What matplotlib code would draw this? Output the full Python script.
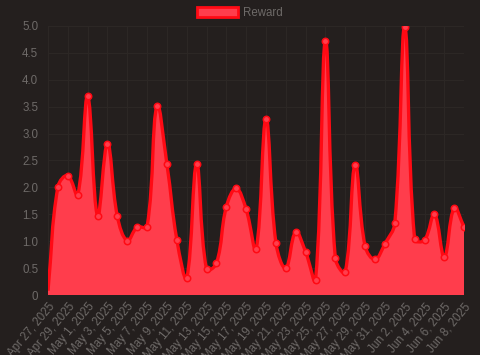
import numpy as np
import matplotlib
matplotlib.use("Agg")
import matplotlib.pyplot as plt
from matplotlib.path import Path
from matplotlib.patches import PathPatch, Patch

plt.rcParams["font.family"] = ["Liberation Sans", "DejaVu Sans"]

dates = ["Apr 27, 2025", "Apr 28, 2025", "Apr 29, 2025", "Apr 30, 2025",
         "May 1, 2025", "May 2, 2025", "May 3, 2025", "May 4, 2025",
         "May 5, 2025", "May 6, 2025", "May 7, 2025", "May 8, 2025",
         "May 9, 2025", "May 10, 2025", "May 11, 2025", "May 12, 2025",
         "May 13, 2025", "May 14, 2025", "May 15, 2025", "May 16, 2025",
         "May 17, 2025", "May 18, 2025", "May 19, 2025", "May 20, 2025",
         "May 21, 2025", "May 22, 2025", "May 23, 2025", "May 24, 2025",
         "May 25, 2025", "May 26, 2025", "May 27, 2025", "May 28, 2025",
         "May 29, 2025", "May 30, 2025", "May 31, 2025", "Jun 1, 2025",
         "Jun 2, 2025", "Jun 3, 2025", "Jun 4, 2025", "Jun 5, 2025",
         "Jun 6, 2025", "Jun 7, 2025", "Jun 8, 2025"]
reward = [0.08, 2.01, 2.22, 1.86, 3.69, 1.47, 2.81, 1.46, 1.01, 1.26, 1.27,
          3.52, 2.43, 1.03, 0.32, 2.43, 0.48, 0.59, 1.64, 1.98, 1.59, 0.85,
          3.27, 0.97, 0.50, 1.17, 0.80, 0.28, 4.72, 0.68, 0.43, 2.42, 0.91,
          0.66, 0.95, 1.34, 4.98, 1.04, 1.02, 1.50, 0.71, 1.62, 1.26]

bg = "#241f1e"
grid_c = "#2c2725"
text_c = "#6e6a68"
red = "#ff0a14"
fill_c = "#ff3d4c"

fig = plt.figure(figsize=(4.8, 3.55), dpi=100, facecolor=bg)
ax = fig.add_axes([0.1, 0.169, 0.867, 0.758], facecolor=bg)

x = np.arange(len(reward), dtype=float)
y = np.array(reward, dtype=float)

# chart.js style spline, computed in pixel space
sx, sy = 9.9, 53.8
px, py = x * sx, y * sy
tension = 0.4
cp_prev = []
cp_next = []
n = len(x)
for i in range(n):
    a = max(i - 1, 0)
    b = min(i + 1, n - 1)
    d01 = np.hypot(px[i] - px[a], py[i] - py[a])
    d12 = np.hypot(px[b] - px[i], py[b] - py[i])
    tot = d01 + d12
    s01 = d01 / tot if tot else 0
    s12 = d12 / tot if tot else 0
    fa = tension * s01
    fb = tension * s12
    cp_prev.append((px[i] - fa * (px[b] - px[a]), py[i] - fa * (py[b] - py[a])))
    cp_next.append((px[i] + fb * (px[b] - px[a]), py[i] + fb * (py[b] - py[a])))

verts = [(x[0], y[0])]
codes = [Path.MOVETO]
for i in range(n - 1):
    c1 = (cp_next[i][0] / sx, cp_next[i][1] / sy)
    c2 = (cp_prev[i + 1][0] / sx, cp_prev[i + 1][1] / sy)
    verts += [c1, c2, (x[i + 1], y[i + 1])]
    codes += [Path.CURVE4] * 3

fill_verts = verts + [(x[-1], 0), (x[0], 0), (x[0], y[0])]
fill_codes = codes + [Path.LINETO, Path.LINETO, Path.CLOSEPOLY]
ax.add_patch(PathPatch(Path(fill_verts, fill_codes), facecolor=fill_c,
                       edgecolor="none", zorder=2))
ax.add_patch(PathPatch(Path(verts, codes), facecolor="none", edgecolor=red,
                       lw=2.4, zorder=3, joinstyle="round"))
ax.plot(x[1:], y[1:], "o", ms=4.6, mfc=fill_c, mec=red, mew=1.1, zorder=4)

ax.set_xlim(0, n - 1)
ax.set_ylim(0, 5)
ax.set_yticks(np.arange(0, 5.01, 0.5))
ax.set_yticklabels(["0"] + [f"{v:.1f}" for v in np.arange(0.5, 5.01, 0.5)])
ax.set_xticks(x[::2])
ax.set_xticklabels(dates[::2], rotation=50, ha="right", va="top",
                   rotation_mode="anchor")
ax.tick_params(axis="y", colors=text_c, labelsize=8.3, length=0, pad=7)
ax.tick_params(axis="x", colors=text_c, labelsize=8.3, length=0, pad=4)
ax.grid(True, color=grid_c, lw=0.8, zorder=0)
for s in ax.spines.values():
    s.set_visible(False)

fig.legend(handles=[Patch(facecolor=fill_c, edgecolor=red, lw=2)],
           labels=["Reward"], loc="upper center", bbox_to_anchor=(0.5, 1.01),
           frameon=False, labelcolor=text_c, fontsize=8.3, handlelength=3.5,
           handleheight=1.0, handletextpad=0.45)

fig.savefig("out.png", dpi=100, facecolor=bg)
